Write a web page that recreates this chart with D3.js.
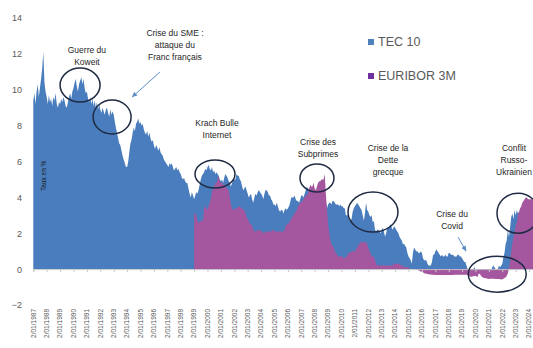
<!DOCTYPE html>
<html><head><meta charset="utf-8">
<script src="https://cdn.jsdelivr.net/npm/d3@7"></script>
<style>body{margin:0;background:#fff;} svg{display:block;font-family:"Liberation Sans",Arial,sans-serif;}</style>
</head><body><svg id="c" width="533" height="348"></svg>
<script>
// ---------- data ----------
const tickYears = d3.range(1987, 2025);
const yTicks = [-2, 0, 2, 4, 6, 8, 10, 12, 14];
const seriesNames = ["TEC 10", "EURIBOR 3M"];

const tec10Start = "1987-01-02"; // monthly values
const tec10 = [
  9.4, 9.8, 9.2, 9.9, 10.3, 9.6, 10.1, 10.6, 11.2, 12.1, 10.4, 9.9,   // 1987
  9.6, 9.2, 9.7, 9.3, 9.5, 9.1, 9.6, 9.4, 9.8, 9.2, 9.0, 9.3,         // 1988
  9.2, 9.5, 9.3, 9.6, 9.4, 9.1, 9.0, 9.3, 9.6, 9.8, 9.5, 9.9,         // 1989
  10.1, 10.4, 10.6, 10.2, 9.9, 10.3, 10.5, 10.7, 10.3, 10.6, 10.1, 9.8, // 1990
  9.9, 9.5, 9.3, 9.6, 9.2, 9.5, 9.1, 9.4, 9.0, 9.3, 8.9, 9.2,         // 1991
  8.9, 8.7, 9.0, 8.8, 8.6, 8.9, 9.0, 8.7, 8.5, 8.9, 8.6, 8.8,         // 1992
  8.6, 8.2, 7.9, 7.6, 7.3, 7.0, 6.9, 6.6, 6.3, 6.1, 5.9, 5.7,         // 1993
  5.7, 6.0, 6.5, 7.0, 7.2, 7.6, 7.9, 7.7, 8.1, 8.2, 8.4, 8.1,         // 1994
  8.2, 8.0, 8.1, 7.8, 7.6, 7.5, 7.7, 7.4, 7.6, 7.3, 7.1, 7.2,         // 1995
  6.9, 6.7, 6.9, 6.8, 6.6, 6.8, 6.5, 6.4, 6.3, 6.1, 6.0, 5.9,         // 1996
  5.8, 5.7, 5.9, 5.8, 5.9, 5.7, 5.5, 5.6, 5.7, 5.5, 5.6, 5.4,         // 1997
  5.3, 5.1, 5.0, 5.1, 4.9, 4.8, 4.8, 4.5, 4.2, 4.0, 4.3, 4.1,         // 1998
  3.9, 4.1, 4.3, 4.2, 4.4, 4.7, 5.0, 5.2, 5.3, 5.4, 5.6, 5.5,         // 1999
  5.7, 5.8, 5.6, 5.5, 5.7, 5.4, 5.5, 5.3, 5.4, 5.3, 5.2, 5.0,         // 2000
  4.9, 5.0, 4.8, 5.1, 5.3, 5.2, 5.1, 4.9, 4.8, 4.6, 4.8, 5.0,         // 2001
  5.0, 5.0, 5.3, 5.2, 5.2, 5.0, 4.9, 4.6, 4.4, 4.5, 4.6, 4.4,         // 2002
  4.2, 4.0, 4.1, 4.2, 3.9, 3.7, 4.0, 4.2, 4.1, 4.3, 4.4, 4.3,         // 2003
  4.2, 4.1, 3.9, 4.2, 4.4, 4.4, 4.3, 4.1, 4.1, 3.9, 3.8, 3.6,         // 2004
  3.6, 3.5, 3.7, 3.5, 3.3, 3.2, 3.3, 3.3, 3.1, 3.3, 3.4, 3.3,         // 2005
  3.4, 3.5, 3.7, 4.0, 4.0, 4.0, 4.1, 3.9, 3.8, 3.8, 3.7, 3.9,         // 2006
  4.1, 4.1, 4.0, 4.2, 4.4, 4.6, 4.5, 4.4, 4.4, 4.4, 4.2, 4.4,         // 2007
  4.2, 4.0, 3.9, 4.2, 4.5, 4.8, 4.7, 4.4, 4.3, 4.1, 3.8, 3.4,         // 2008
  3.6, 3.7, 3.7, 3.6, 3.8, 3.8, 3.7, 3.6, 3.6, 3.6, 3.5, 3.6,         // 2009
  3.5, 3.5, 3.4, 3.4, 3.0, 3.0, 3.0, 2.7, 2.7, 2.8, 3.2, 3.4,         // 2010
  3.5, 3.6, 3.7, 3.6, 3.5, 3.4, 3.3, 3.0, 2.7, 3.1, 3.7, 3.3,         // 2011
  3.2, 3.0, 2.9, 3.0, 2.6, 2.7, 2.2, 2.1, 2.2, 2.2, 2.1, 2.0,         // 2012
  2.2, 2.3, 2.1, 1.8, 2.0, 2.3, 2.3, 2.4, 2.5, 2.3, 2.2, 2.4,         // 2013
  2.3, 2.2, 2.1, 2.0, 1.8, 1.7, 1.6, 1.4, 1.4, 1.3, 1.2, 0.9,         // 2014
  0.7, 0.6, 0.5, 0.3, 0.9, 1.2, 1.1, 1.0, 1.0, 0.9, 0.9, 1.0,         // 2015
  0.9, 0.6, 0.5, 0.5, 0.5, 0.3, 0.2, 0.2, 0.2, 0.4, 0.8, 0.8,         // 2016
  1.0, 1.1, 1.0, 0.9, 0.8, 0.7, 0.8, 0.7, 0.7, 0.8, 0.7, 0.7,         // 2017
  0.9, 0.9, 0.8, 0.8, 0.8, 0.7, 0.7, 0.7, 0.8, 0.8, 0.7, 0.7,         // 2018
  0.6, 0.5, 0.4, 0.4, 0.2, 0.0, -0.1, -0.4, -0.3, -0.1, 0.0, 0.1,     // 2019
  0.0, -0.2, 0.0, 0.0, -0.1, -0.1, -0.2, -0.2, -0.3, -0.3, -0.3, -0.3, // 2020
  -0.3, -0.1, -0.1, 0.1, 0.2, 0.1, 0.0, -0.1, 0.0, 0.2, 0.1, 0.2,     // 2021
  0.3, 0.7, 0.9, 1.4, 1.6, 2.2, 1.8, 2.3, 2.9, 3.1, 2.8, 3.3,         // 2022
  3.0, 3.3, 3.1, 3.2, 3.1, 3.2, 3.3, 3.4, 3.6, 3.7, 3.2, 2.7,         // 2023
  2.8, 2.9, 2.8, 3.0, 3.1                                             // 2024
];

const euriborStart = "1999-01-02"; // monthly values
const euribor3m = [
  3.1, 3.1, 3.0, 2.7, 2.6, 2.6, 2.7, 2.7, 2.7, 3.4, 3.5, 3.4,         // 1999
  3.3, 3.5, 3.7, 3.9, 4.3, 4.5, 4.6, 4.8, 4.8, 5.0, 5.2, 4.9,         // 2000
  4.8, 4.8, 4.7, 4.7, 4.6, 4.5, 4.5, 4.4, 4.0, 3.6, 3.4, 3.3,         // 2001
  3.3, 3.4, 3.4, 3.4, 3.5, 3.5, 3.4, 3.4, 3.3, 3.3, 3.1, 2.9,         // 2002
  2.8, 2.7, 2.5, 2.5, 2.4, 2.2, 2.1, 2.1, 2.2, 2.1, 2.2, 2.2,         // 2003
  2.1, 2.1, 2.0, 2.0, 2.1, 2.1, 2.1, 2.1, 2.1, 2.1, 2.2, 2.2,         // 2004
  2.1, 2.1, 2.1, 2.1, 2.1, 2.1, 2.1, 2.1, 2.1, 2.2, 2.4, 2.5,         // 2005
  2.5, 2.6, 2.7, 2.8, 2.9, 3.0, 3.1, 3.2, 3.3, 3.5, 3.6, 3.7,         // 2006
  3.7, 3.8, 3.9, 4.0, 4.1, 4.1, 4.2, 4.5, 4.7, 4.6, 4.6, 4.8,         // 2007
  4.5, 4.4, 4.6, 4.8, 4.9, 4.9, 5.0, 5.0, 5.0, 5.3, 4.2, 3.3,         // 2008
  2.5, 2.0, 1.6, 1.4, 1.3, 1.2, 1.0, 0.9, 0.8, 0.7, 0.7, 0.7,         // 2009
  0.7, 0.7, 0.6, 0.6, 0.7, 0.7, 0.9, 0.9, 0.9, 1.0, 1.0, 1.0,         // 2010
  1.0, 1.1, 1.2, 1.3, 1.4, 1.5, 1.5, 1.5, 1.5, 1.5, 1.5, 1.4,         // 2011
  1.2, 1.0, 0.9, 0.7, 0.7, 0.7, 0.5, 0.3, 0.2, 0.2, 0.2, 0.2,         // 2012
  0.2, 0.2, 0.2, 0.2, 0.2, 0.2, 0.2, 0.2, 0.2, 0.2, 0.2, 0.3,         // 2013
  0.3, 0.3, 0.3, 0.3, 0.3, 0.2, 0.2, 0.2, 0.1, 0.1, 0.1, 0.1,         // 2014
  0.1, 0.0, 0.0, 0.0, -0.01, -0.01, -0.02, -0.03, -0.04, -0.06, -0.1, -0.13, // 2015
  -0.15, -0.18, -0.23, -0.25, -0.26, -0.27, -0.29, -0.3, -0.3, -0.31, -0.31, -0.32, // 2016
  -0.33, -0.33, -0.33, -0.33, -0.33, -0.33, -0.33, -0.33, -0.33, -0.33, -0.33, -0.33, // 2017
  -0.33, -0.33, -0.33, -0.33, -0.33, -0.32, -0.32, -0.32, -0.32, -0.32, -0.32, -0.31, // 2018
  -0.31, -0.31, -0.31, -0.31, -0.32, -0.33, -0.37, -0.41, -0.42, -0.41, -0.4, -0.39, // 2019
  -0.39, -0.41, -0.42, -0.25, -0.27, -0.38, -0.44, -0.48, -0.49, -0.51, -0.52, -0.54, // 2020
  -0.55, -0.54, -0.54, -0.54, -0.54, -0.54, -0.55, -0.55, -0.55, -0.55, -0.57, -0.58, // 2021
  -0.56, -0.53, -0.5, -0.45, -0.39, -0.24, 0.04, 0.4, 1.0, 1.4, 1.8, 2.1, // 2022
  2.4, 2.6, 3.0, 3.2, 3.4, 3.5, 3.7, 3.8, 3.9, 4.0, 4.0, 3.9,         // 2023
  3.9, 3.9, 3.9, 3.9, 3.8                                             // 2024
];

// annotations anchored in data space (decimal year, value)
const notes = [
  {lines: ["Guerre du", "Koweit"], tx: 1991.0, ty: 12.05, cx: 1990.49, cy: 10.26, rx: 20, ry: 17},
  {lines: ["Crise du SME :", "attaque du", "Franc français"], tx: 1997.57, ty: 13.0, cx: 1992.88, cy: 8.48, rx: 19, ry: 17,
   arrow: [1996.45, 10.99, 1994.37, 9.59]},
  {lines: ["Krach Bulle", "Internet"], tx: 2000.71, ty: 7.98, cx: 2000.56, cy: 5.30, rx: 20, ry: 14},
  {lines: ["Crise des", "Subprimes"], tx: 2008.25, ty: 6.92, cx: 2008.17, cy: 5.08, rx: 17, ry: 14},
  {lines: ["Crise de la", "Dette", "grecque"], tx: 2013.47, ty: 6.58, cx: 2012.35, cy: 3.18, rx: 25, ry: 20},
  {lines: ["Crise du", "Covid"], tx: 2018.25, ty: 2.90, cx: 2021.62, cy: -0.28, rx: 29, ry: 18,
   arrow: [2018.7, 1.78, 2019.3, 1.0]},
  {lines: ["Conflit", "Russo-", "Ukrainien"], tx: 2022.87, ty: 6.58, cx: 2023.17, cy: 3.12, rx: 21, ry: 20}
];

// ---------- drawing ----------
const svg = d3.select("#c");
const parse = d3.utcParse("%Y-%m-%d");
const x = d3.scaleUtc().domain([parse("1987-01-02"), parse("2024-01-02")]).range([33.3, 529.1]);
const y = d3.scaleLinear().domain([-2, 14]).range([305, 18]);
const yearToDate = yr => { const y0 = Math.floor(yr); return new Date(Date.UTC(y0, 0, 2) + (yr - y0) * 365.25 * 864e5); };
const fx = yr => x(yearToDate(yr));

function build(start, vals) {
  const s = parse(start);
  return vals.map((v, i) => ({d: d3.utcMonth.offset(s, i), v}));
}
const tecData = build(tec10Start, tec10);
const eurData = build(euriborStart, euribor3m);

const colors = ["#4a7dbd", "#a4579e"];
const legendColors = ["#4f81bd", "#7030a0"];

svg.append("clipPath").attr("id", "clip").append("rect").attr("x", 0).attr("y", 0).attr("width", 533).attr("height", 348);

const area = d3.area().x(d => x(d.d)).y0(y(0)).y1(d => y(d.v)).curve(d3.curveLinear);
const g = svg.append("g").attr("clip-path", "url(#clip)");
g.append("path").datum(tecData).attr("d", area).attr("fill", colors[0]);
// vertical start edge for euribor
g.append("path").datum(eurData).attr("d", area).attr("fill", colors[1]);

// x axis line at 0
const xAxis = d3.axisBottom(x)
  .tickValues(tickYears.map(yr => parse(yr + "-01-02")))
  .tickSize(3).tickFormat("");
const ax = svg.append("g").attr("transform", `translate(0,${y(0)})`).call(xAxis);
ax.select(".domain").attr("stroke", "#c8c8c8").attr("stroke-width", 0.8);
ax.selectAll(".tick line").attr("stroke", "#c8c8c8");

// x labels (low position)
svg.append("g").selectAll("text").data(tickYears).join("text")
  .attr("transform", yr => `translate(${x(parse(yr + "-01-02"))},309) rotate(-90)`)
  .attr("text-anchor", "end").attr("dy", "0.35em")
  .attr("font-size", 6.5).attr("fill", "#595959")
  .text(yr => "2/01/" + yr);

// y axis labels
const yAxis = d3.axisLeft(y).tickValues(yTicks).tickSize(0).tickPadding(0);
const ayg = svg.append("g").attr("transform", "translate(22,0)").call(yAxis);
ayg.select(".domain").remove();
ayg.selectAll("text").attr("font-size", 9).attr("fill", "#595959").attr("font-family", "Liberation Sans, Arial, sans-serif");

// y title inside plot
svg.append("text").attr("transform", `translate(44,${y(5.2)}) rotate(-90)`)
  .attr("text-anchor", "middle").attr("dy", "0.35em")
  .attr("font-size", 6.5).attr("fill", "#1a1a1a").text("Taux en %");

// annotations
const ann = svg.append("g");
notes.forEach(n => {
  ann.append("ellipse").attr("cx", fx(n.cx)).attr("cy", y(n.cy)).attr("rx", n.rx).attr("ry", n.ry)
    .attr("fill", "none").attr("stroke", "#1f2a44").attr("stroke-width", 1.5);
  const t = ann.append("text").attr("text-anchor", "middle").attr("font-size", 8.5).attr("fill", "#262626");
  n.lines.forEach((l, i) => t.append("tspan").attr("x", fx(n.tx)).attr("y", y(n.ty) + i * 12).text(l));
  if (n.arrow) {
    const [x1, y1, x2, y2] = [fx(n.arrow[0]), y(n.arrow[1]), fx(n.arrow[2]), y(n.arrow[3])];
    ann.append("line").attr("x1", x1).attr("y1", y1).attr("x2", x2).attr("y2", y2)
      .attr("stroke", "#5b8cc8").attr("stroke-width", 1);
    const a = Math.atan2(y2 - y1, x2 - x1), L = 5, W = 2.5;
    const p = [[x2, y2],
      [x2 - L * Math.cos(a) + W * Math.sin(a), y2 - L * Math.sin(a) - W * Math.cos(a)],
      [x2 - L * Math.cos(a) - W * Math.sin(a), y2 - L * Math.sin(a) + W * Math.cos(a)]];
    ann.append("path").attr("d", "M" + p.join("L") + "Z").attr("fill", "#5b8cc8");
  }
});

// legend
const leg = svg.append("g");
seriesNames.forEach((nm, i) => {
  const ly = 42 + i * 34;
  leg.append("rect").attr("x", 368).attr("y", ly - 3).attr("width", 6).attr("height", 6).attr("fill", legendColors[i]);
  leg.append("text").attr("x", 378).attr("y", ly).attr("dy", "0.35em").attr("font-size", 12.5).attr("fill", "#595959").text(nm);
});
</script>
</body></html>
